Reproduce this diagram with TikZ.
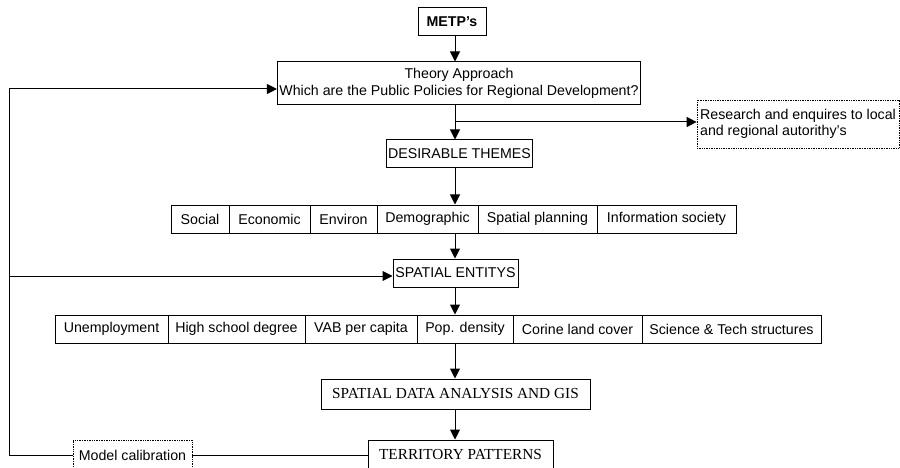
\documentclass[tikz,border=0pt]{standalone}
\usepackage{fontspec}
\setmainfont{Liberation Sans}
\newfontfamily\romfont{Liberation Serif}
\usetikzlibrary{arrows.meta}
\def\sansfnt{\fontsize{14.2}{16.5}\selectfont}
\def\romfnt{\romfont\fontsize{15.3}{18}\selectfont}
\tikzset{
  box/.style={draw, line width=1pt, minimum height=28pt, inner sep=2pt, font=\sansfnt},
  cell/.style={box, minimum width=#1},
  dotbox/.style={draw, densely dotted, line width=0.7pt, inner sep=2pt, font=\sansfnt},
  arr/.style={line width=1pt, -{Triangle[length=10pt,width=10pt]}},
  link/.style={line width=1pt}
}

\begin{document}
\begin{tikzpicture}[x=1pt, y=-1pt]
	\useasboundingbox (0,0) rectangle (900,468);
	\coordinate (spine) at (455,0);

	\node[box, minimum width=68pt, font=\sansfnt\bfseries] (metp) at (452,22) {METP's};
	\node[box, minimum width=362pt, minimum height=43pt, align=center] (theory) at (459,83.5)
		{Theory Approach\\Which are the Public Policies for Regional Development?};
	\node[dotbox, minimum width=202pt, minimum height=48pt, align=left] (research) at (798,124)
		{Research and enquires to local\\and regional autorithy's};
	\node[box, minimum width=137pt] (desire) at (459.5,154) {DESIRABLE THEMES};

	% themes
	\node[cell=58pt] (social) at (200,219) {Social};
	\node[cell=81pt] (econ) at (269.5,219) {Economic};
	\node[cell=67pt] (environ) at (343.5,219) {Environ};
	\node[cell=101pt] (demog) at (427.5,219) {Demographic};
	\node[cell=119pt] (splan) at (537.5,219) {Spatial planning};
	\node[cell=139pt] (infosoc) at (666.5,219) {Information society};

	\node[box, minimum width=125pt] (entity) at (455.5,273) {SPATIAL ENTITYS};

	% indicators
	\node[cell=113pt] (unemp) at (111.5,329) {Unemployment};
	\node[cell=137pt] (school) at (236.5,329) {High school degree};
	\node[cell=112pt] (vab) at (361,329) {VAB per capita};
	\node[cell=96pt] (popd) at (465,329) {Pop. density};
	\node[cell=129pt] (corine) at (577.5,329) {Corine land cover};
	\node[cell=179pt] (scitech) at (731.5,329) {Science \& Tech structures};

	\node[box, minimum width=269pt, minimum height=30pt, font=\romfnt] (gis) at (455.5,394) {SPATIAL DATA ANALYSIS AND GIS};
	\node[box, minimum width=185pt, minimum height=30pt, font=\romfnt] (terr) at (460.5,455) {TERRITORY PATTERNS};
	\node[dotbox, minimum width=119pt, minimum height=30pt] (calib) at (132.5,455) {Model calibration};

	\coordinate (split) at (455,122);
	\coordinate (fbtop) at (9,89);
	\coordinate (fbmid) at (9,276);
	\coordinate (fbbot) at (9,455);

	\draw[arr] (metp.south -| spine) -- (theory.north -| spine);
	\draw[arr] (theory.south -| spine) -- (desire.north -| spine);
	\draw[arr] (split) -- (split -| research.west);
	\draw[arr] (desire.south -| spine) -- (demog.north -| spine);
	\draw[arr] (demog.south -| spine) -- (entity.north -| spine);
	\draw[arr] (entity.south -| spine) -- (popd.north -| spine);
	\draw[arr] (popd.south -| spine) -- (gis.north -| spine);
	\draw[arr] (gis.south -| spine) -- (terr.north -| spine);

	% feedback loop
	\draw[link] (terr.west) -- (calib.east);
	\draw[arr] (calib.west) -- (fbbot) -- (fbtop) -- (fbtop -| theory.west);
	\draw[arr] (fbmid) -- (fbmid -| entity.west);
\end{tikzpicture}
\end{document}
